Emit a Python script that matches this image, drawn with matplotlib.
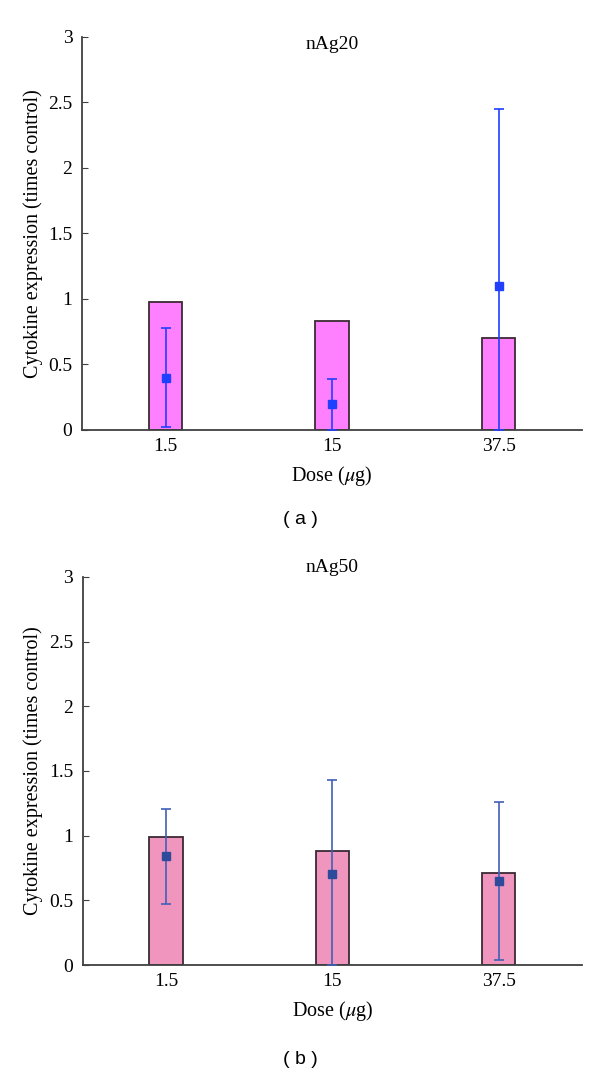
import numpy as np
import matplotlib.pyplot as plt

plt.rcParams['font.family'] = ['Liberation Serif', 'DejaVu Serif']
plt.rcParams['mathtext.fontset'] = 'stix'

doses = ['1.5', '15', '37.5']

# nAg20 (panel a)
bars_a = [0.98, 0.83, 0.70]
mean_a = [0.40, 0.20, 1.10]
low_a = [0.02, 0.00, 0.00]
high_a = [0.78, 0.39, 2.45]

# nAg50 (panel b)
bars_b = [0.99, 0.88, 0.71]
mean_b = [0.84, 0.70, 0.65]
low_b = [0.47, 0.00, 0.04]
high_b = [1.21, 1.43, 1.26]

yticks = [0, 0.5, 1, 1.5, 2, 2.5, 3]
ytick_labels = ['0', '0.5', '1', '1.5', '2', '2.5', '3']


def panel(ax, title, title_y, bars, mean, low, high, bar_color, err_color, mk_color):
    x = np.arange(len(doses))
    ax.bar(x, bars, width=0.2, color=bar_color, edgecolor='#3a2a35', linewidth=1.3, zorder=2)
    mean = np.array(mean)
    yerr = [mean - np.array(low), np.array(high) - mean]
    ax.errorbar(x, mean, yerr=yerr, fmt='s', color=mk_color, ecolor=err_color,
                elinewidth=1.2, capsize=3.5, capthick=1.2, markersize=5.5, zorder=3)
    ax.set_xlim(-0.5, 2.5)
    ax.set_ylim(0, 3)
    ax.set_xticks(x)
    ax.set_xticklabels(doses, fontsize=14)
    ax.set_yticks(yticks)
    ax.set_yticklabels(ytick_labels, fontsize=14)
    ax.tick_params(axis='y', direction='in', length=4, color='#404040', pad=7)
    ax.tick_params(axis='x', length=0, pad=6)
    for s in ['top', 'right']:
        ax.spines[s].set_visible(False)
    for s in ['left', 'bottom']:
        ax.spines[s].set_color('#404040')
        ax.spines[s].set_linewidth(1.3)
    ax.set_xlabel('Dose ($\\mu$g)', fontsize=14.5, labelpad=6)
    ax.set_ylabel('Cytokine expression (times control)', fontsize=14.5, labelpad=4)
    ax.text(0.5, title_y, title, transform=ax.transAxes, ha='center', va='center', fontsize=14)


fig = plt.figure(figsize=(6, 10.75), dpi=100)
ax1 = fig.add_axes([0.137, 0.6, 0.833, 0.3656])
ax2 = fig.add_axes([0.138, 0.1023, 0.832, 0.361])

panel(ax1, 'nAg20', 0.98, bars_a, mean_a, low_a, high_a, '#ff80ff', '#2040ff', '#2040ff')
panel(ax2, 'nAg50', 1.025, bars_b, mean_b, low_b, high_b, '#f095be', '#4060b8', '#2e4a9a')

fig.text(0.5, 1 - 520 / 1075, '( a )', ha='center', va='center', fontsize=14,
         family=['Liberation Sans', 'DejaVu Sans'])
fig.text(0.5, 1 - 1060 / 1075, '( b )', ha='center', va='center', fontsize=14,
         family=['Liberation Sans', 'DejaVu Sans'])

fig.savefig('out.png', dpi=100)
